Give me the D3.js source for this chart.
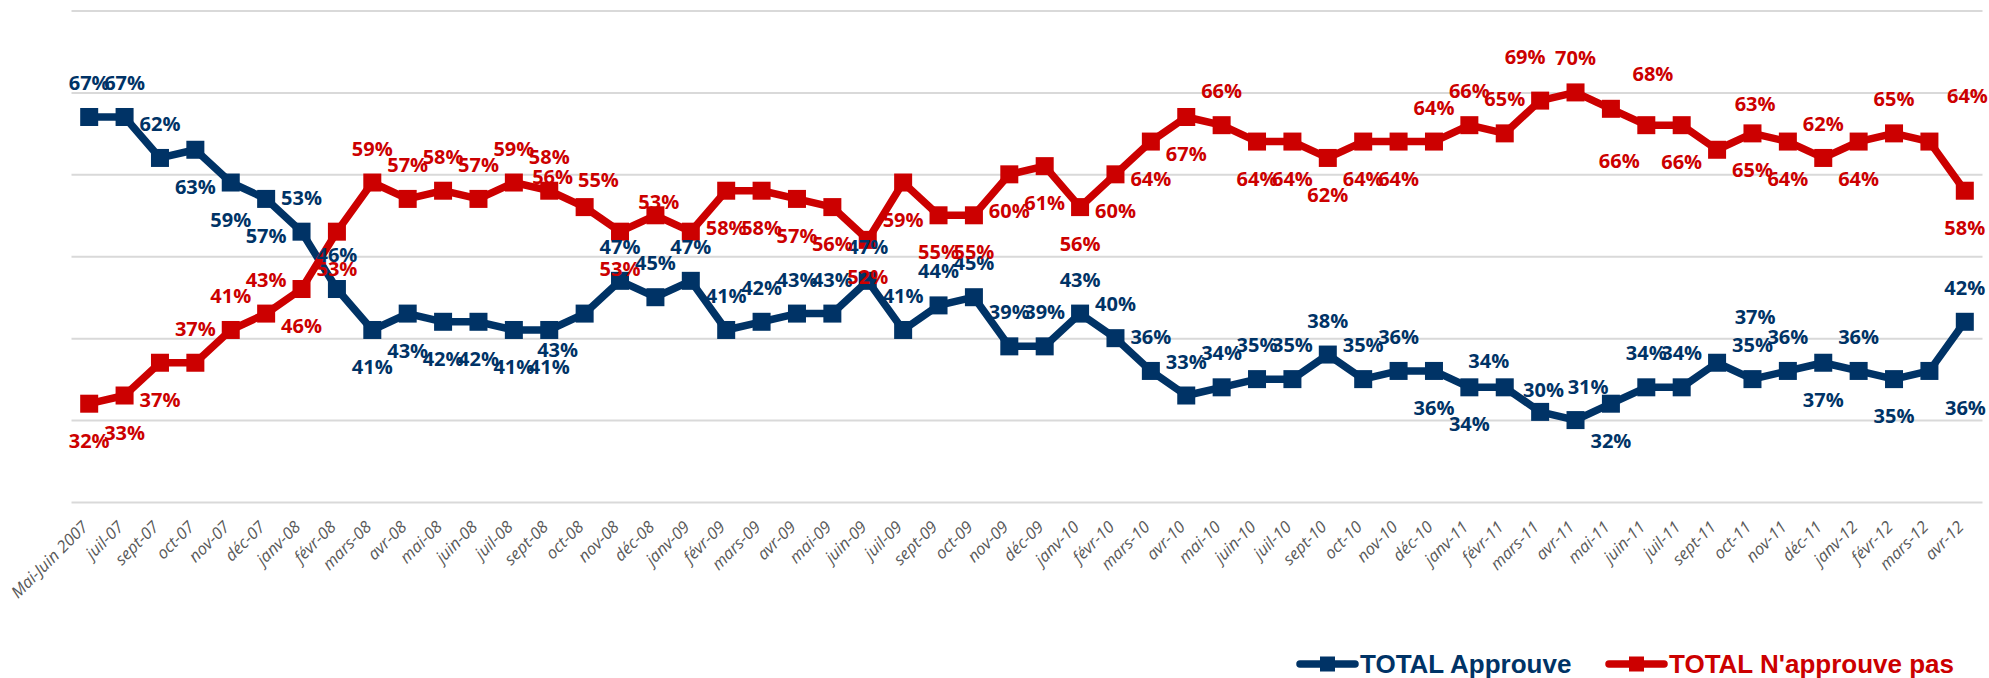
<!DOCTYPE html>
<html>
  <head>
    <meta charset="utf-8">
    <title>TOTAL Approuve / N'approuve pas</title>
    <script type="text/javascript" src="https://d3js.org/d3.v7.min.js"></script>
    <style type="text/css">
      body { margin: 0; background: #fff; }
      .grid line { stroke: #d9d9d9; stroke-width: 2; }
      .grid .domain { display: none; }
      .xaxis .domain { display: none; }
      .xaxis text { font-family: "Open Sans", sans-serif; font-style: italic; font-size: 16.5px; fill: #595959; }
      .lbl { font-family: "Open Sans", sans-serif; font-weight: bold; font-size: 20px; }
      .legend text { font-family: "Liberation Sans", Arial, sans-serif; font-weight: bold; font-size: 26px; }
    </style>
  </head>
  <body>
    <script type="text/javascript">
    // categories (x axis)
    var categories = ["Mai-Juin 2007", "juil-07", "sept-07", "oct-07", "nov-07", "déc-07",
      "janv-08", "févr-08", "mars-08", "avr-08", "mai-08", "juin-08", "juil-08", "sept-08", "oct-08", "nov-08", "déc-08",
      "janv-09", "févr-09", "mars-09", "avr-09", "mai-09", "juin-09", "juil-09", "sept-09", "oct-09", "nov-09", "déc-09",
      "janv-10", "févr-10", "mars-10", "avr-10", "mai-10", "juin-10", "juil-10", "sept-10", "oct-10", "nov-10", "déc-10",
      "janv-11", "févr-11", "mars-11", "avr-11", "mai-11", "juin-11", "juil-11", "sept-11", "oct-11", "nov-11", "déc-11",
      "janv-12", "févr-12", "mars-12", "avr-12"];

    // series values (%)
    var approuve = [67, 67, 62, 63, 59, 57,
      53, 46, 41, 43, 42, 42, 41, 41, 43, 47, 45,
      47, 41, 42, 43, 43, 47, 41, 44, 45, 39, 39,
      43, 40, 36, 33, 34, 35, 35, 38, 35, 36, 36,
      34, 34, 31, 30, 32, 34, 34, 37, 35, 36, 37,
      36, 35, 36, 42];

    var nApprouvePas = [32, 33, 37, 37, 41, 43,
      46, 53, 59, 57, 58, 57, 59, 58, 56, 53, 55,
      53, 58, 58, 57, 56, 52, 59, 55, 55, 60, 61,
      56, 60, 64, 67, 66, 64, 64, 62, 64, 64, 64,
      66, 65, 69, 70, 68, 66, 66, 63, 65, 64, 62,
      64, 65, 64, 58];

    // where each data label sits relative to its marker
    var approuveLabelPos = ["a","a","a","b","b","b",
      "a","a","b","b","b","b","b","b","bl","a","a",
      "a","a","a","a","a","a","a","a","a","a","a",
      "a","a","a","a","a","a","a","a","a","a","b",
      "b","al","ur","ul","b","a","a","uur","a","a","b",
      "a","b","br","a"];

    var nApprouvePasLabelPos = ["b","b","b","a","a","a",
      "b","b","a","a","a","a","a","a","ul","b","ull",
      "ul","b","b","b","b","b","b","b","b","b","b",
      "b","b","b","b","a","b","b","b","b","b","a",
      "a","a","uul","a","ar","bl","b","uur","b","b","a",
      "b","a","uur","b"];

    var labelOffset = {
      a: [0, -34], b: [0, 37], bl: [-27, 36], br: [36, 37],
      al: [-16, -26], ul: [-32, -30], ull: [-57, -35], ur: [48, -25],
      uur: [38, -46], uul: [-15, -44], ar: [42, -35]
    };

    var blue = "#003366";
    var red = "#cc0000";

    var width = 1989;
    var height = 678;

    var svg = d3.select("body")
                .append("svg")
                .attr("width", width)
                .attr("height", height);

    var xScale = d3.scaleBand()
                   .domain(categories)
                   .range([71.5, 1982.5]);

    var yScale = d3.scaleLinear()
                   .domain([20, 80])
                   .range([502, 10.5]);

    function cx(d, i) { return xScale(categories[i]) + xScale.bandwidth() / 2; }

    // horizontal gridlines
    svg.append("g")
       .attr("class", "grid")
       .attr("transform", "translate(71.5,0)")
       .call(d3.axisLeft(yScale).tickValues([20, 30, 40, 50, 60, 70, 80])
               .tickSize(-1911).tickFormat(""));

    // x axis labels, rotated
    svg.append("g")
       .attr("class", "xaxis")
       .attr("transform", "translate(0,510)")
       .call(d3.axisBottom(xScale).tickSize(0))
       .selectAll("text")
       .attr("x", 0)
       .attr("y", 0)
       .attr("dy", 0)
       .attr("transform", "translate(0,18) rotate(-45)")
       .style("text-anchor", "end");
    svg.selectAll(".xaxis .tick line").remove();

    var line = d3.line()
                 .x(function(d, i){ return cx(d, i); })
                 .y(function(d){ return yScale(d); });

    var series = [
      { values: approuve, color: blue, pos: approuveLabelPos },
      { values: nApprouvePas, color: red, pos: nApprouvePasLabelPos }
    ];

    var markerSize = 18;

    series.forEach(function(s) {
      svg.append("path")
         .datum(s.values)
         .attr("fill", "none")
         .attr("stroke", s.color)
         .attr("stroke-width", 7.5)
         .attr("stroke-linejoin", "round")
         .attr("d", line);

      svg.append("g")
         .selectAll("rect")
         .data(s.values)
         .enter()
         .append("rect")
         .attr("x", function(d, i){ return cx(d, i) - markerSize / 2; })
         .attr("y", function(d){ return yScale(d) - markerSize / 2; })
         .attr("width", markerSize)
         .attr("height", markerSize)
         .attr("fill", s.color);
    });

    // data labels on top of everything
    series.forEach(function(s) {
      svg.append("g")
         .selectAll("text")
         .data(s.values)
         .enter()
         .append("text")
         .attr("class", "lbl")
         .attr("fill", s.color)
         .attr("text-anchor", "middle")
         .attr("x", function(d, i){ return cx(d, i) + labelOffset[s.pos[i]][0]; })
         .attr("y", function(d, i){ return yScale(d) + labelOffset[s.pos[i]][1] + 7; })
         .text(function(d){ return d + "%"; });
    });

    // legend
    var legend = svg.append("g").attr("class", "legend");
    var legendItems = [
      { name: "TOTAL Approuve", color: blue, x: 1300 },
      { name: "TOTAL N'approuve pas", color: red, x: 1609 }
    ];
    legendItems.forEach(function(it) {
      legend.append("line")
            .attr("x1", it.x).attr("x2", it.x + 55)
            .attr("y1", 664).attr("y2", 664)
            .attr("stroke", it.color)
            .attr("stroke-width", 7.5)
            .attr("stroke-linecap", "round");
      legend.append("rect")
            .attr("x", it.x + 27.5 - 7.5).attr("y", 664 - 7.5)
            .attr("width", 15).attr("height", 15)
            .attr("fill", it.color);
      legend.append("text")
            .attr("x", it.x + 60)
            .attr("y", 673)
            .attr("fill", it.color)
            .text(it.name);
    });
    </script>
  </body>
</html>
